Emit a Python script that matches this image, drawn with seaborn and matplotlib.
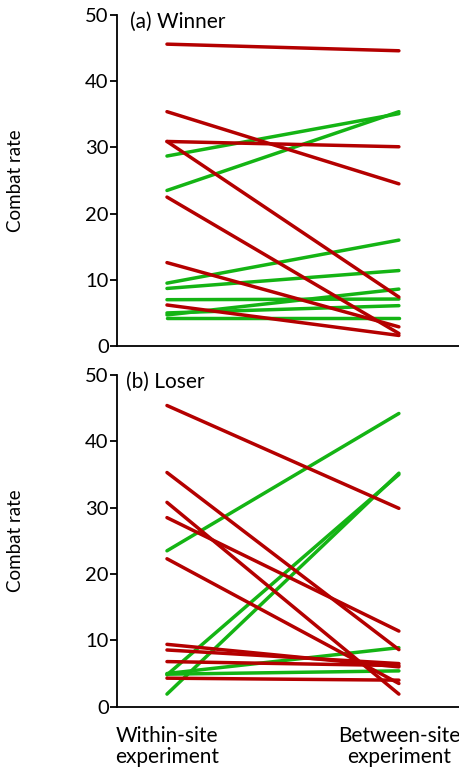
import numpy as np
import pandas as pd
import matplotlib
matplotlib.use('Agg')
import matplotlib.pyplot as plt
import seaborn as sns

sns.set_style('ticks')
plt.rcParams['font.family'] = ['Lato', 'DejaVu Sans']
plt.rcParams['text.color'] = 'black'
plt.rcParams['xtick.color'] = 'black'
plt.rcParams['ytick.color'] = 'black'
plt.rcParams['axes.labelcolor'] = 'black'
plt.rcParams['axes.edgecolor'] = 'black'

CONDITIONS = ['Within-site\nexperiment', 'Between-site\nexperiment']
RED = '#b40000'
GREEN = '#14b414'

# (a) Winner: combat rate within-site -> between-site
win_within  = [45.6, 35.4, 30.9, 30.9, 22.5, 12.6, 6.2,
               28.7, 23.5, 9.5, 8.7, 7.0, 4.7, 5.0, 4.2]
win_between = [44.6, 24.5, 30.1, 7.4, 1.9, 2.9, 1.6,
               35.1, 35.4, 16.0, 11.4, 7.1, 8.6, 6.1, 4.2]

# (b) Loser
los_within  = [45.4, 35.3, 30.8, 28.5, 22.3, 9.4, 8.55, 6.8, 4.3,
               23.5, 1.9, 4.8, 5.0, 4.9]
los_between = [29.9, 8.6, 1.9, 11.4, 3.5, 6.0, 6.5, 6.2, 4.0,
               44.2, 35.2, 35.0, 8.9, 5.4]


def to_long(within, between):
    rows = []
    for i, (a, b) in enumerate(zip(within, between)):
        trend = 'down' if b < a else 'up'
        rows.append({'pair': i, 'x': 0, 'rate': a, 'trend': trend})
        rows.append({'pair': i, 'x': 1, 'rate': b, 'trend': trend})
    return pd.DataFrame(rows)


fig = plt.figure(figsize=(4.59, 7.70), dpi=100)
ax1 = fig.add_axes([0.2549, 0.5506, 0.745, 0.4299])
ax2 = fig.add_axes([0.2549, 0.0822, 0.745, 0.4308])

panels = [(ax1, win_within, win_between, '(a) Winner', -0.16),
          (ax2, los_within, los_between, '(b) Loser', -0.177)]

for ax, w, b, title, tx in panels:
    df = to_long(w, b)
    for trend, col in [('up', GREEN), ('down', RED)]:
        sub = df[df['trend'] == trend]
        sns.lineplot(data=sub, x='x', y='rate', units='pair', estimator=None,
                     color=col, lw=2.5, ax=ax, legend=False,
                     solid_capstyle='round')
    ax.set_xlim(-0.2155, 1.259)
    ax.set_ylim(0, 50)
    ax.set_yticks([0, 10, 20, 30, 40, 50])
    ax.tick_params(axis='y', labelsize=14.5, length=5, width=1.3, pad=1)
    ax.set_ylabel('Combat rate', fontsize=13.5)
    ax.yaxis.set_label_coords(-0.272, 0.5)
    ax.set_xlabel('')
    for s in ['top', 'right']:
        ax.spines[s].set_visible(False)
    for s in ['left', 'bottom']:
        ax.spines[s].set_linewidth(1.3)
    ax.text(tx, 48.9, title, fontsize=15, ha='left', va='center')

ax1.set_xticks([])
ax2.set_xticks([0, 1])
ax2.set_xticklabels(CONDITIONS, fontsize=15, linespacing=1.05)
ax2.tick_params(axis='x', length=0, pad=14)
# the reference's right label sits a touch left of the line end
ax2.get_xticklabels()[1].set_x(0.985)

fig.savefig('out.png', dpi=100)
